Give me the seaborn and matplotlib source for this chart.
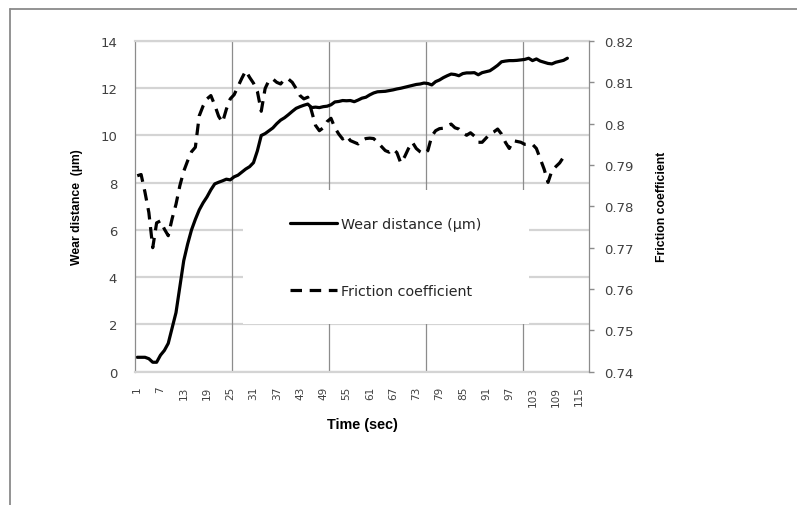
import matplotlib
matplotlib.use("Agg")
import matplotlib.pyplot as plt
from matplotlib.lines import Line2D
from matplotlib.patches import Rectangle
import pandas as pd
import seaborn as sns

# Time samples (s) and the two measured series
time_sec = list(range(1, 113))

wear_um = [
    0.61, 0.61, 0.61, 0.55, 0.40, 0.40, 0.70, 0.90, 1.20, 1.85,
    2.50, 3.60, 4.70, 5.40, 6.00, 6.45, 6.85, 7.15, 7.40, 7.70,
    7.95, 8.02, 8.08, 8.15, 8.12, 8.25, 8.32, 8.45, 8.58, 8.68,
    8.85, 9.35, 10.00, 10.08, 10.20, 10.32, 10.50, 10.65, 10.75, 10.88,
    11.02, 11.15, 11.22, 11.28, 11.33, 11.18, 11.20, 11.18, 11.22, 11.24,
    11.30, 11.42, 11.44, 11.48, 11.47, 11.48, 11.43, 11.50, 11.58, 11.62,
    11.72, 11.80, 11.85, 11.86, 11.87, 11.90, 11.93, 11.97, 12.00, 12.04,
    12.08, 12.12, 12.16, 12.18, 12.22, 12.20, 12.14, 12.28, 12.35, 12.45,
    12.53, 12.60, 12.58, 12.53, 12.62, 12.65, 12.65, 12.66, 12.57, 12.66,
    12.70, 12.74, 12.85, 12.97, 13.12, 13.15, 13.17, 13.17, 13.18, 13.20,
    13.22, 13.27, 13.17, 13.24, 13.15, 13.10, 13.05, 13.03, 13.10, 13.14,
    13.18, 13.27,
]

friction = [
    0.7874, 0.7877, 0.7834, 0.7785, 0.7700, 0.7760, 0.7765, 0.7745, 0.7729, 0.7770,
    0.7805, 0.7850, 0.7885, 0.7910, 0.7932, 0.7943, 0.8019, 0.8043, 0.8060, 0.8068,
    0.8045, 0.8018, 0.8003, 0.8035, 0.8060, 0.8070, 0.8090, 0.8110, 0.8128, 0.8112,
    0.8098, 0.8078, 0.8030, 0.8085, 0.8105, 0.8108, 0.8100, 0.8096, 0.8108, 0.8108,
    0.8100, 0.8085, 0.8068, 0.8060, 0.8064, 0.8030, 0.7996, 0.7983, 0.7990, 0.8005,
    0.8013, 0.7990, 0.7975, 0.7963, 0.7971, 0.7959, 0.7955, 0.7951, 0.7960, 0.7964,
    0.7965, 0.7964, 0.7955, 0.7945, 0.7935, 0.7931, 0.7939, 0.7930, 0.7905, 0.7920,
    0.7940, 0.7955, 0.7940, 0.7932, 0.7927, 0.7935, 0.7970, 0.7983, 0.7988, 0.7989,
    0.7995, 0.7999, 0.7990, 0.7987, 0.7978, 0.7972, 0.7978, 0.7970, 0.7955, 0.7955,
    0.7965, 0.7975, 0.7980, 0.7987, 0.7975, 0.7955, 0.7940, 0.7959, 0.7957, 0.7955,
    0.7950, 0.7950, 0.7950, 0.7940, 0.7915, 0.7890, 0.7858, 0.7886, 0.7896, 0.7905,
    0.7919, 0.7910,
]

x_tick_labels = [1, 7, 13, 19, 25, 31, 37, 43, 49, 55, 61, 67, 73, 79, 85, 91, 97, 103, 109, 115]
left_ticks = [0, 2, 4, 6, 8, 10, 12, 14]
right_ticks = [0.74, 0.75, 0.76, 0.77, 0.78, 0.79, 0.80, 0.81, 0.82]
right_tick_text = ["0.74", "0.75", "0.76", "0.77", "0.78", "0.79", "0.8", "0.81", "0.82"]
n_categories = 117
major_every = 25

df = pd.DataFrame({"time": time_sec, "wear": wear_um, "friction": friction})

sns.set_style("white")
plt.rcParams["font.family"] = ["DejaVu Sans"]

W, H = 797, 506
fig = plt.figure(figsize=(W / 100, H / 100), dpi=100)
ax = fig.add_axes([135.3 / W, 1 - 372.7 / H, 453.4 / W, 330.7 / H])
ax2 = ax.twinx()

tick_color = "#404040"
hgrid = "#d4d4d4"
vgrid = "#8c8c8c"
dash = (0, (3.6, 2.4))

sns.lineplot(data=df, x="time", y="wear", ax=ax, color="black", lw=2.3,
             errorbar=None, legend=False,
             solid_joinstyle="round", solid_capstyle="round")
sns.lineplot(data=df, x="time", y="friction", ax=ax2, color="black", lw=2.3,
             errorbar=None, legend=False, linestyle=dash, dash_capstyle="butt")

ax.set_xlim(0.5, n_categories + 0.5)
ax.set_ylim(0, 14)
ax2.set_ylim(0.74, 0.82)

ax.set_xticks(x_tick_labels)
ax.set_xticklabels([str(v) for v in x_tick_labels], rotation=90, fontsize=7.6, color=tick_color)
ax.set_yticks(left_ticks)
ax.set_yticklabels([str(v) for v in left_ticks], fontsize=9.5, color=tick_color)
ax2.set_yticks(right_ticks)
ax2.set_yticklabels(right_tick_text, fontsize=9.5, color=tick_color)

ax.tick_params(axis="x", length=0, pad=10)
ax.tick_params(axis="y", length=0, pad=13)
ax2.tick_params(axis="y", length=3.5, width=1, color=vgrid, direction="out", pad=7.5)

# horizontal gridlines (light) and category gridlines (darker)
ax.grid(axis="y", color=hgrid, lw=1.6)
for k in range(1, n_categories // major_every + 1):
    ax.axvline(k * major_every + 0.5, color=vgrid, lw=0.9, zorder=0.8)
ax.set_axisbelow(True)

for name in ("top", "bottom"):
    ax.spines[name].set_color(hgrid)
    ax.spines[name].set_linewidth(1.6)
    ax2.spines[name].set_visible(False)
ax.spines["left"].set_color(vgrid)
ax.spines["left"].set_linewidth(0.9)
ax.spines["right"].set_visible(False)
ax2.spines["left"].set_visible(False)
ax2.spines["right"].set_color(vgrid)
ax2.spines["right"].set_linewidth(0.9)

bold = ["Liberation Sans", "DejaVu Sans"]
ax.set_xlabel("Time (sec)", family=bold, fontsize=10.4, fontweight="bold", color="black")
ax.set_ylabel("Wear distance  (\u00b5m)", family=bold, fontsize=8.8, fontweight="bold", color="black")
ax2.set_ylabel("Friction coefficient", family=bold, fontsize=8.8, fontweight="bold", color="black")
ax.xaxis.label.set_va("center")
ax.xaxis.set_label_coords(0.5, (372.7 - 425) / 330.7)
ax.yaxis.label.set_va("center")
ax.yaxis.set_label_coords((77 - 135.3) / 453.4, 0.5)
ax2.yaxis.label.set_va("center")
ax2.yaxis.set_label_coords((662 - 135.3) / 453.4, 0.5)

# white legend panel over the gridlines
ax2.add_patch(Rectangle((243 / W, 1 - 325 / H), (529 - 243) / W, (325 - 191) / H,
                        transform=fig.transFigure, facecolor="white",
                        edgecolor="none", zorder=1))
handles = [Line2D([], [], color="black", lw=2.3),
           Line2D([], [], color="black", lw=2.3, linestyle=dash, dash_capstyle="butt")]
leg = ax2.legend(handles, ["Wear distance (\u00b5m)", "Friction coefficient"],
                 loc="center left", bbox_to_anchor=(290 / W, 1 - 258.5 / H),
                 bbox_transform=fig.transFigure, frameon=False, borderpad=0,
                 borderaxespad=0, handlelength=3.3, handletextpad=0.25,
                 labelspacing=3.7, fontsize=10.3)
for t in leg.get_texts():
    t.set_color("#262626")
leg.set_zorder(5)

# chart frame
frame_kw = dict(color="#8a8a8a", lw=1.3, transform=fig.transFigure)
fig.add_artist(Line2D([9.5 / W, 1.0], [1 - 9.5 / H, 1 - 9.5 / H], **frame_kw))
fig.add_artist(Line2D([9.5 / W, 9.5 / W], [1 - 9.5 / H, 0.0], **frame_kw))

fig.savefig("out.png", dpi=100, facecolor="white")
